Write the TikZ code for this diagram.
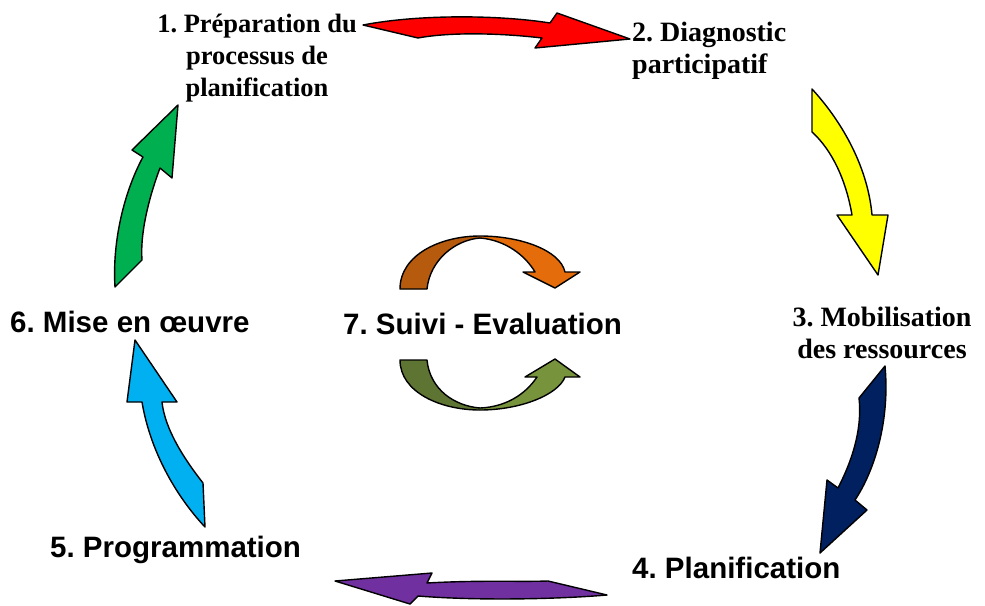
\documentclass[tikz,border=0pt]{standalone}
\usepackage{fontspec}
\setmainfont{Liberation Serif}
\setsansfont{Liberation Sans}
\frenchspacing
\definecolor{aRed}{HTML}{FF0000}
\definecolor{aYellow}{HTML}{FFFF00}
\definecolor{aNavy}{HTML}{002060}
\definecolor{aPurple}{HTML}{7030A0}
\definecolor{aBlue}{HTML}{00B0F0}
\definecolor{aGreen}{HTML}{00B050}
\definecolor{oDark}{HTML}{B65A0E}
\definecolor{oLight}{HTML}{E46C0A}
\definecolor{gDark}{HTML}{5E7432}
\definecolor{gLight}{HTML}{77933C}
\newcommand\orangeshape{(400,289) .. controls (400,255) and (440,236) .. (480,236) .. controls (520,236) and (560,250) .. (565,272) -- (580,272) -- (555,288) -- (523,272) -- (535,272) .. controls (525,255) and (505,240) .. (480,238) .. controls (455,240) and (430,260) .. (427,289) -- cycle}
\newcommand\olivshape{(400,360) .. controls (400,392) and (440,410) .. (480,410) .. controls (520,410) and (558,395) .. (565,377) -- (580,377) -- (555,359) -- (525,377) -- (537,377) .. controls (525,395) and (505,407) .. (480,408) .. controls (455,406) and (430,390) .. (427,360) -- cycle}
\begin{document}
\begin{tikzpicture}[x=1pt,y=-1pt,
  blockarrow/.style={draw=black, line width=1.4pt, line join=round},
  serlbl/.style={font=\fontsize{28}{32}\selectfont\bfseries, inner sep=0pt},
  sanslbl/.style={font=\sffamily\fontsize{29.5}{34}\selectfont\bfseries, inner sep=0pt}]
\useasboundingbox (0,0) rectangle (985,605);

% circle arrows
\path[blockarrow, fill=aRed] (363,25) .. controls (420,14) and (500,15) .. (550,23) -- (557,13) -- (630,39) -- (535,48) -- (542,38) .. controls (500,33) and (450,32) .. (418,38) -- cycle;
\path[blockarrow, fill=aYellow] (812,89) .. controls (845,125) and (868,170) .. (872,215) -- (888,215) -- (878,275) -- (837,215) -- (852,215) .. controls (846,180) and (832,150) .. (812,132) -- cycle;
\path[blockarrow, fill=aNavy] (885,366) .. controls (890,420) and (875,470) .. (855,500) -- (867,510) -- (820,553) -- (827,480) -- (838,488) .. controls (855,455) and (862,425) .. (859,398) -- cycle;
\path[blockarrow, fill=aPurple] (335,581) -- (432,573) -- (427,583) .. controls (480,580) and (520,582) .. (548,581) -- (607,595) .. controls (560,599) and (480,601) .. (418,596) -- (410,604) -- cycle;
\path[blockarrow, fill=aBlue] (135,340) -- (177,402) -- (162,402) .. controls (165,430) and (185,460) .. (203,483) -- (205,527) .. controls (175,495) and (150,450) .. (142,402) -- (127,402) -- cycle;
\path[blockarrow, fill=aGreen] (178,105) -- (172,178) -- (160,168) .. controls (148,200) and (140,235) .. (142,260) -- (115,287) .. controls (112,240) and (125,190) .. (143,157) -- (132,150) -- cycle;

% centre arrows
\fill[oLight] \orangeshape;
\begin{scope}
  \clip (380,220) rectangle (480,300);
  \fill[oDark] \orangeshape;
\end{scope}
\path[blockarrow] \orangeshape;
\fill[gLight] \olivshape;
\begin{scope}
  \clip (380,350) rectangle (480,420);
  \fill[gDark] \olivshape;
\end{scope}
\path[blockarrow] \olivshape;

% labels
\node[serlbl, font=\fontsize{26.5}{32}\selectfont\bfseries, align=center, anchor=north] (l1) at (257,14) {1. Préparation du\\processus de\\planification};
\node[serlbl, align=left, anchor=north west] (l2) at (632,22) {2. Diagnostic\\participatif};
\node[serlbl, align=center, anchor=north] (l3) at (882,307) {3. Mobilisation\\des ressources};
\node[sanslbl, anchor=base west] (l4) at (632,578) {4. Planification};
\node[sanslbl, anchor=base west] (l5) at (50,557) {5. Programmation};
\node[sanslbl, anchor=base west] (l6) at (10,332) {6. Mise en œuvre};
\node[sanslbl, anchor=base west] (l7) at (343,334) {7. Suivi - Evaluation};
\end{tikzpicture}
\end{document}
